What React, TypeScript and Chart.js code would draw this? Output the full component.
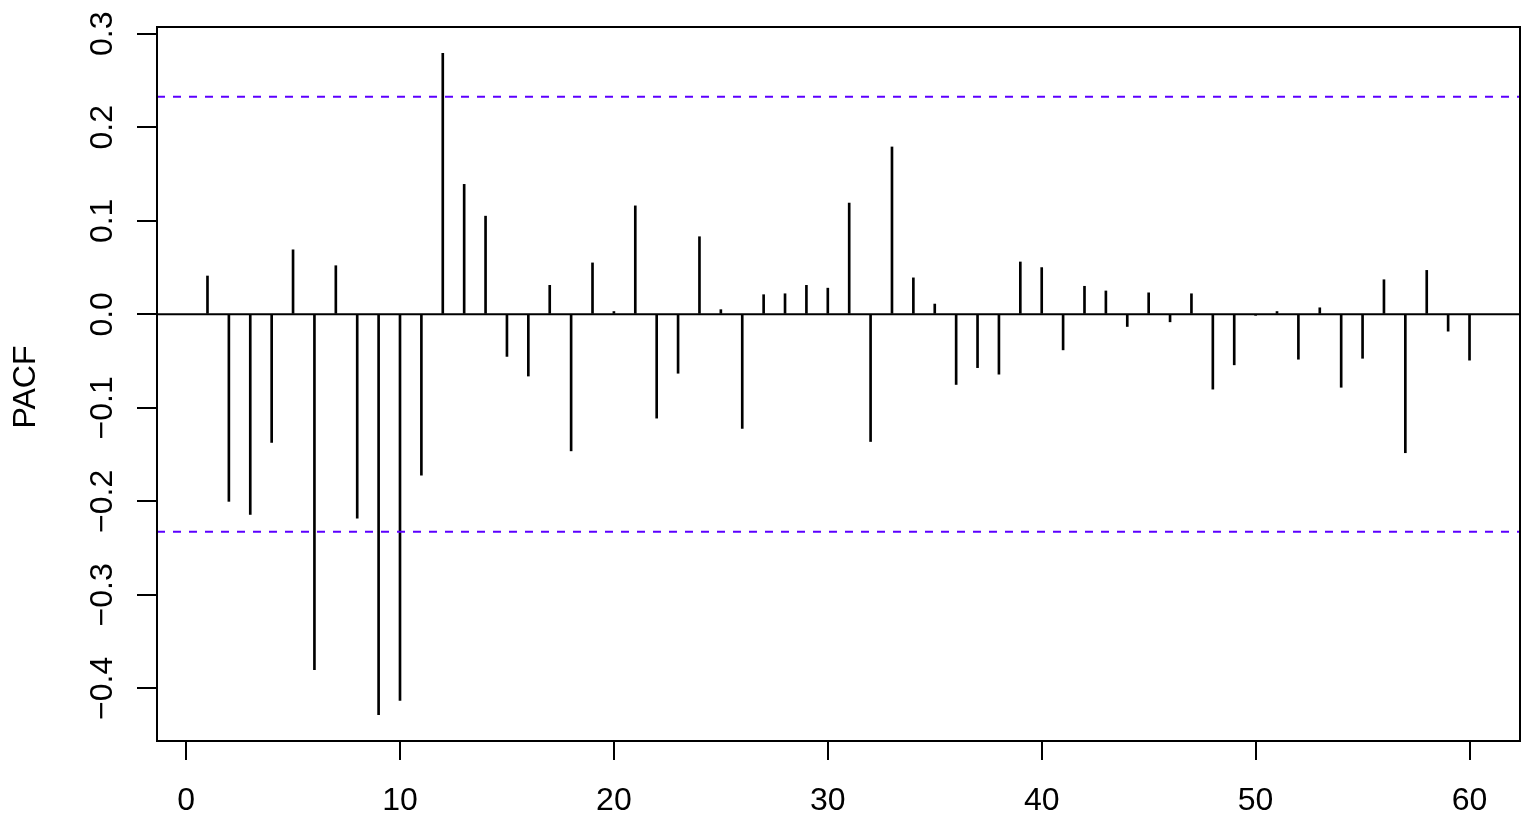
import { useEffect, useRef } from 'react';
import { Chart, registerables } from 'chart.js';

Chart.register(...registerables);

const lags: number[] = Array.from({ length: 60 }, (_, i) => i + 1);
const pacfValues: number[] = [
  0.041, -0.2, -0.214, -0.137, 0.069, -0.38, 0.052, -0.218, -0.428, -0.413,
  -0.172, 0.279, 0.139, 0.105, -0.045, -0.066, 0.031, -0.146, 0.055, 0.003,
  0.116, -0.111, -0.063, 0.083, 0.005, -0.122, 0.021, 0.022, 0.031, 0.028,
  0.119, -0.136, 0.179, 0.039, 0.011, -0.075, -0.057, -0.064, 0.056, 0.05,
  -0.038, 0.03, 0.025, -0.013, 0.023, -0.008, 0.022, -0.08, -0.054, -0.001,
  0.003, -0.048, 0.007, -0.078, -0.047, 0.037, -0.148, 0.047, -0.018, -0.049,
];
const confLimit = 0.2326;
const xTicks: number[] = [0, 10, 20, 30, 40, 50, 60];
const xTickLabels: string[] = ['0', '10', '20', '30', '40', '50', '60'];
const yTicks: number[] = [-0.4, -0.3, -0.2, -0.1, 0, 0.1, 0.2, 0.3];
const yTickLabels: string[] = ['\u22120.4', '\u22120.3', '\u22120.2', '\u22120.1', '0.0', '0.1', '0.2', '0.3'];
const yTitle = 'PACF';

const FONT = '32px "Liberation Sans", Arial, Helvetica, sans-serif';

export default function App() {
  const ref = useRef<HTMLCanvasElement | null>(null);

  useEffect(() => {
    document.body.style.margin = '0';
    const canvas = ref.current;
    if (!canvas) return;

    const xr = [Math.min(...lags), Math.max(...lags)];
    const yr = [Math.min(...pacfValues, -confLimit), Math.max(...pacfValues, confLimit)];
    const xPad = (xr[1] - xr[0]) * 0.04;
    const yPad = (yr[1] - yr[0]) * 0.04;

    const rPlot = {
      id: 'rPlot',
      afterDatasetsDraw(chart: any) {
        const { ctx, chartArea: a } = chart;
        const xs = chart.scales.x;
        const ys = chart.scales.y;
        ctx.save();
        // zero line
        ctx.strokeStyle = '#000';
        ctx.lineWidth = 2;
        const y0 = ys.getPixelForValue(0);
        ctx.beginPath();
        ctx.moveTo(a.left, y0);
        ctx.lineTo(a.right, y0);
        ctx.stroke();
        // confidence lines
        ctx.setLineDash([8, 8]);
        ctx.strokeStyle = '#5c00ff';
        for (const c of [confLimit, -confLimit]) {
          const yc = ys.getPixelForValue(c);
          ctx.beginPath();
          ctx.moveTo(a.left, yc);
          ctx.lineTo(a.right, yc);
          ctx.stroke();
        }
        ctx.setLineDash([]);
        // box
        ctx.strokeStyle = '#000';
        ctx.strokeRect(a.left, a.top, a.right - a.left, a.bottom - a.top);
        // tick labels
        ctx.font = FONT;
        ctx.fillStyle = '#000';
        ctx.textAlign = 'center';
        ctx.textBaseline = 'alphabetic';
        xs.ticks.forEach((t: any, i: number) => {
          ctx.fillText(xTickLabels[i], xs.getPixelForValue(t.value), a.bottom + 69);
        });
        ys.ticks.forEach((t: any, i: number) => {
          ctx.save();
          ctx.translate(a.left - 45, ys.getPixelForValue(t.value));
          ctx.rotate(-Math.PI / 2);
          ctx.fillText(yTickLabels[i], 0, 0);
          ctx.restore();
        });
        // y title
        ctx.save();
        ctx.translate(35, (a.top + a.bottom) / 2 + 3);
        ctx.rotate(-Math.PI / 2);
        ctx.fillText(yTitle, 0, 0);
        ctx.restore();
        ctx.restore();
      },
    };

    const chart = new Chart(canvas, {
      type: 'bar',
      data: {
        datasets: [
          {
            data: lags.map((l, i) => ({ x: l, y: pacfValues[i] })),
            backgroundColor: '#000',
            borderWidth: 0,
            barThickness: 2,
          } as any,
        ],
      },
      options: {
        responsive: false,
        animation: false,
        events: [],
        devicePixelRatio: 1,
        layout: { padding: { top: 27, right: 14, left: 0, bottom: 0 } },
        plugins: { legend: { display: false }, tooltip: { enabled: false } },
        scales: {
          x: {
            type: 'linear',
            offset: false,
            min: xr[0] - xPad,
            max: xr[1] + xPad,
            afterBuildTicks: (s: any) => {
              s.ticks = xTicks.map((v) => ({ value: v }));
            },
            afterFit: (s: any) => {
              s.height = 80;
            },
            ticks: { display: false },
            border: { display: false },
            grid: {
              offset: false,
              drawOnChartArea: false,
              drawTicks: true,
              tickLength: 19,
              color: '#000',
              lineWidth: 2,
            },
          },
          y: {
            type: 'linear',
            min: yr[0] - yPad,
            max: yr[1] + yPad,
            afterBuildTicks: (s: any) => {
              s.ticks = yTicks.map((v) => ({ value: v }));
            },
            afterFit: (s: any) => {
              s.width = 157;
            },
            ticks: { display: false },
            border: { display: false },
            grid: {
              drawOnChartArea: false,
              drawTicks: true,
              tickLength: 20,
              color: '#000',
              lineWidth: 2,
            },
          },
        },
      } as any,
      plugins: [rPlot],
    });

    return () => chart.destroy();
  }, []);

  return (
    <div style={{ width: 1534, height: 821, background: '#fff' }}>
      <canvas ref={ref} width={1534} height={821} style={{ display: 'block' }} />
    </div>
  );
}
